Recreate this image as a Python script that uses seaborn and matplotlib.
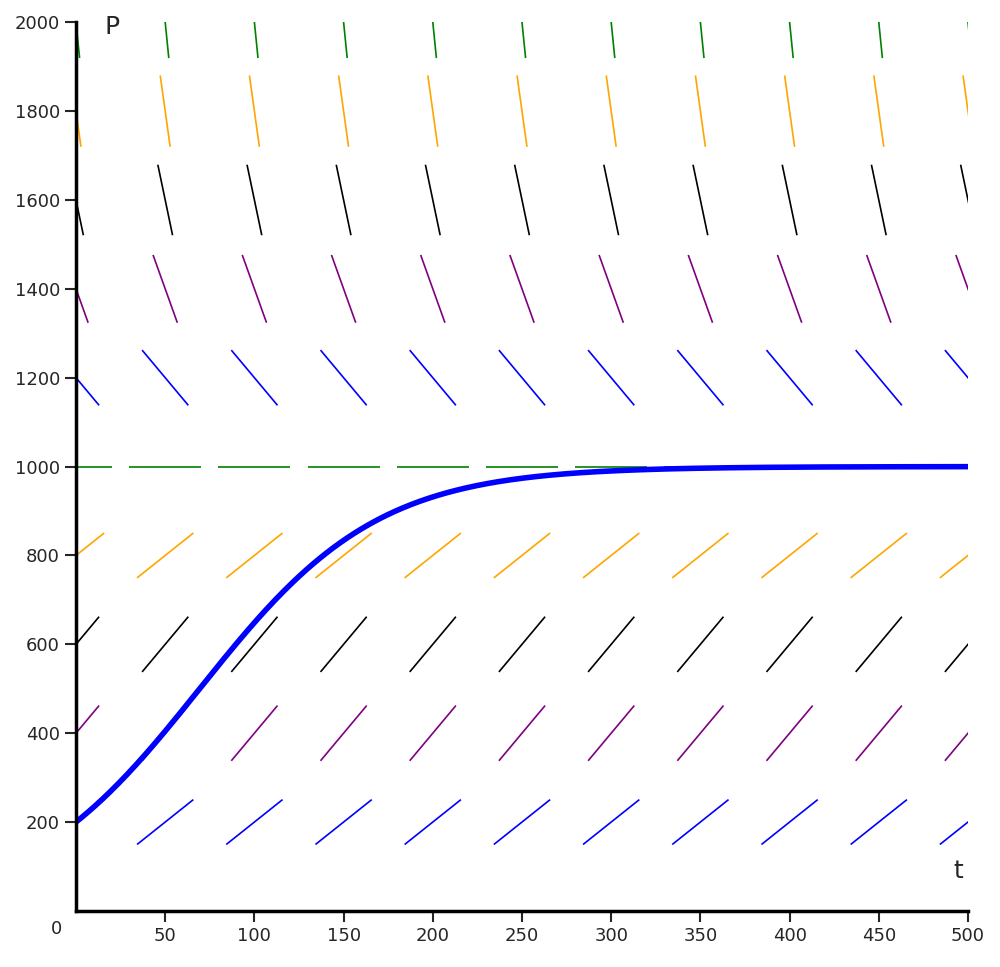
import numpy as np
import pandas as pd
import matplotlib
matplotlib.use("Agg")
import matplotlib.pyplot as plt
import seaborn as sns

# logistic model
RATE = 0.02
CAPACITY = 1000
P_START = 200

t_centers = [0, 50, 100, 150, 200, 250, 300, 350, 400, 450, 500]
p_centers = [200, 400, 600, 800, 1000, 1200, 1400, 1600, 1800, 2000]
row_colors = ["blue", "purple", "black", "orange", "green",
              "blue", "purple", "black", "orange", "green"]
x_ticks = [50, 100, 150, 200, 250, 300, 350, 400, 450, 500]
y_ticks = [200, 400, 600, 800, 1000, 1200, 1400, 1600, 1800, 2000]

sns.set_style("white")

fig = plt.figure(figsize=(10, 9.67), dpi=100)
ax = fig.add_axes([0.076, 0.058, 0.892, 0.919])
ax.set_xlim(0, 500)
ax.set_ylim(0, 2000)

# pixel scale so every dash has the same on-screen length
bbox = ax.get_window_extent()
sx = bbox.width / 500
sy = bbox.height / 2000
half = 36

for p, col in zip(p_centers, row_colors):
    slope = RATE * p * (1 - p / CAPACITY)
    dxp, dyp = 1.0, slope * sy / sx
    n = np.hypot(dxp, dyp)
    dt = half * dxp / n / sx
    dp = half * dyp / n / sy
    for t in t_centers:
        ax.plot([t - dt, t + dt], [p - dp, p + dp], color=col, lw=1.2,
                solid_capstyle="butt")

t_curve = np.linspace(0, 500, 400)
curve = pd.DataFrame({
    "t": t_curve,
    "P": CAPACITY / (1 + (CAPACITY / P_START - 1) * np.exp(-RATE * t_curve)),
})
sns.lineplot(data=curve, x="t", y="P", ax=ax, color="blue", lw=4)

for s in ["top", "right"]:
    ax.spines[s].set_visible(False)
for s in ["left", "bottom"]:
    ax.spines[s].set_linewidth(2.5)
    ax.spines[s].set_color("black")

ax.set_xticks(x_ticks)
ax.set_yticks(y_ticks)
ax.tick_params(axis="both", direction="out", length=8, width=1.5,
               labelsize=13, bottom=True, left=True)
ax.set_xlabel("")
ax.set_ylabel("")
ax.text(-8, -20, "0", ha="right", va="top", fontsize=13)
ax.text(16, 1990, "P", ha="left", va="center", fontsize=18)
ax.text(497, 90, "t", ha="right", va="center", fontsize=18)

fig.savefig("out.png", dpi=100)
